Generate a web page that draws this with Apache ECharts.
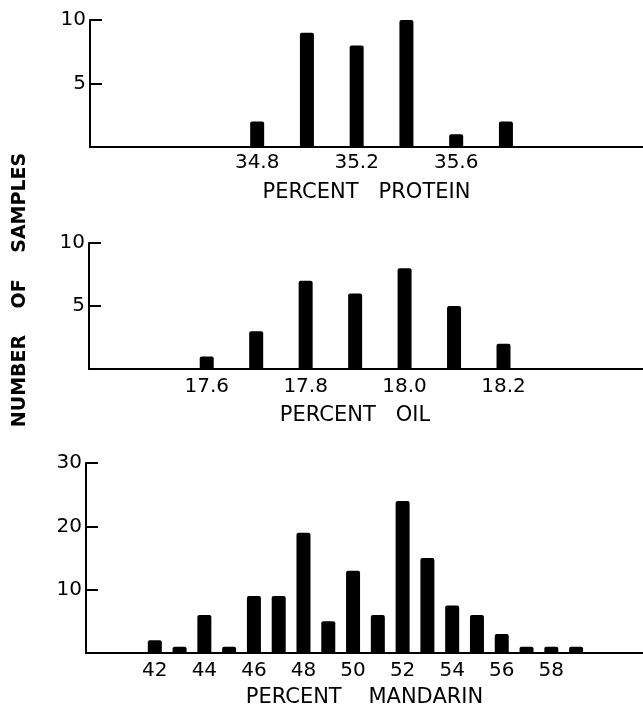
<!DOCTYPE html>
<html>
<head>
<meta charset="utf-8">
<script src="https://cdn.jsdelivr.net/npm/echarts@6/dist/echarts.min.js"></script>
<style>
html,body{margin:0;padding:0;background:#fff;}
#chart{width:643px;height:709px;}
</style>
</head>
<body>
<div id="chart"></div>
<script>
// ---- data ----
const proteinX = [34.8, 35.0, 35.2, 35.4, 35.6, 35.8];
const proteinN = [2, 9, 8, 10, 1, 2];
const proteinTicks = [34.8, 35.2, 35.6];

const oilX = [17.6, 17.7, 17.8, 17.9, 18.0, 18.1, 18.2];
const oilN = [1, 3, 7, 6, 8, 5, 2];
const oilTicks = [17.6, 17.8, 18.0, 18.2];

const mandarinX = [42, 43, 44, 45, 46, 47, 48, 49, 50, 51, 52, 53, 54, 55, 56, 57, 58, 59];
const mandarinN = [2, 1, 6, 1, 9, 9, 19, 5, 13, 6, 24, 15, 7.5, 6, 3, 1, 1, 1];
const mandarinTicks = [42, 44, 46, 48, 50, 52, 54, 56, 58];

const yTitle = 'NUMBER    OF    SAMPLES';
const xTitles = ['PERCENT   PROTEIN', 'PERCENT   OIL', 'PERCENT    MANDARIN'];

// ---- chart ----
const FONT = 'DejaVu Sans';
const chart = echarts.init(document.getElementById('chart'), null, {renderer: 'canvas'});

function zip(xs, ys) { return xs.map((x, i) => [x, ys[i]]); }

function xAxis(gridIndex, min, max, ticks, name, fmt, margin, nameGap, namePad) {
  return {
    type: 'value', gridIndex, min, max,
    name, nameLocation: 'middle', nameGap,
    nameTextStyle: {color: '#000', fontFamily: FONT, fontSize: 21, padding: namePad},
    axisLine: {show: true, onZero: false, lineStyle: {color: '#000', width: 2}},
    axisTick: {show: false},
    splitLine: {show: false},
    axisLabel: {
      customValues: ticks, formatter: fmt, color: '#000',
      fontFamily: FONT, fontSize: 20, margin
    }
  };
}
function yAxis(gridIndex, max, interval) {
  return {
    type: 'value', gridIndex, min: 0, max, interval,
    axisLine: {show: true, lineStyle: {color: '#000', width: 2}},
    axisTick: {show: true, inside: true, length: 12, lineStyle: {color: '#000', width: 2}},
    splitLine: {show: false},
    axisLabel: {
      color: '#000', fontFamily: FONT, fontSize: 20, margin: 4, padding: [5, 0, 0, 0],
      formatter: v => (v === 0 ? '' : String(v))
    }
  };
}

const option = {
  backgroundColor: '#fff',
  animation: false,
  grid: [
    {left: 90, right: 0, top: 20, height: 127},
    {left: 89, right: 0, top: 243, height: 126},
    {left: 86, right: 0, top: 463, height: 192}
  ],
  xAxis: [
    xAxis(0, 34.128, 36.351, proteinTicks, xTitles[0], v => v.toFixed(1), 6, 35, [0, 0, 0, 0]),
    xAxis(1, 17.362, 18.482, oilTicks, xTitles[1], v => v.toFixed(1), 8, 36, [0, 22, 0, 0]),
    xAxis(2, 39.224, 61.70, mandarinTicks, xTitles[2], v => String(v), 8, 34, [0, 0, 0, 0])
  ],
  yAxis: [yAxis(0, 10, 5), yAxis(1, 10, 5), yAxis(2, 30, 10)],
  series: [
    {type: 'bar', xAxisIndex: 0, yAxisIndex: 0, barWidth: 14, data: zip(proteinX, proteinN),
     itemStyle: {color: '#000', borderRadius: [2, 2, 0, 0]}},
    {type: 'bar', xAxisIndex: 1, yAxisIndex: 1, barWidth: 14, data: zip(oilX, oilN),
     itemStyle: {color: '#000', borderRadius: [2, 2, 0, 0]}},
    {type: 'bar', xAxisIndex: 2, yAxisIndex: 2, barWidth: 14, data: zip(mandarinX, mandarinN),
     itemStyle: {color: '#000', borderRadius: [2, 2, 0, 0]}}
  ],
  graphic: [{
    type: 'text', x: 20, y: 290, rotation: Math.PI / 2,
    style: {text: yTitle, fill: '#000', font: 'bold 19px "DejaVu Sans"',
            textAlign: 'center', textVerticalAlign: 'middle'}
  }]
};
chart.setOption(option);
</script>
</body>
</html>
